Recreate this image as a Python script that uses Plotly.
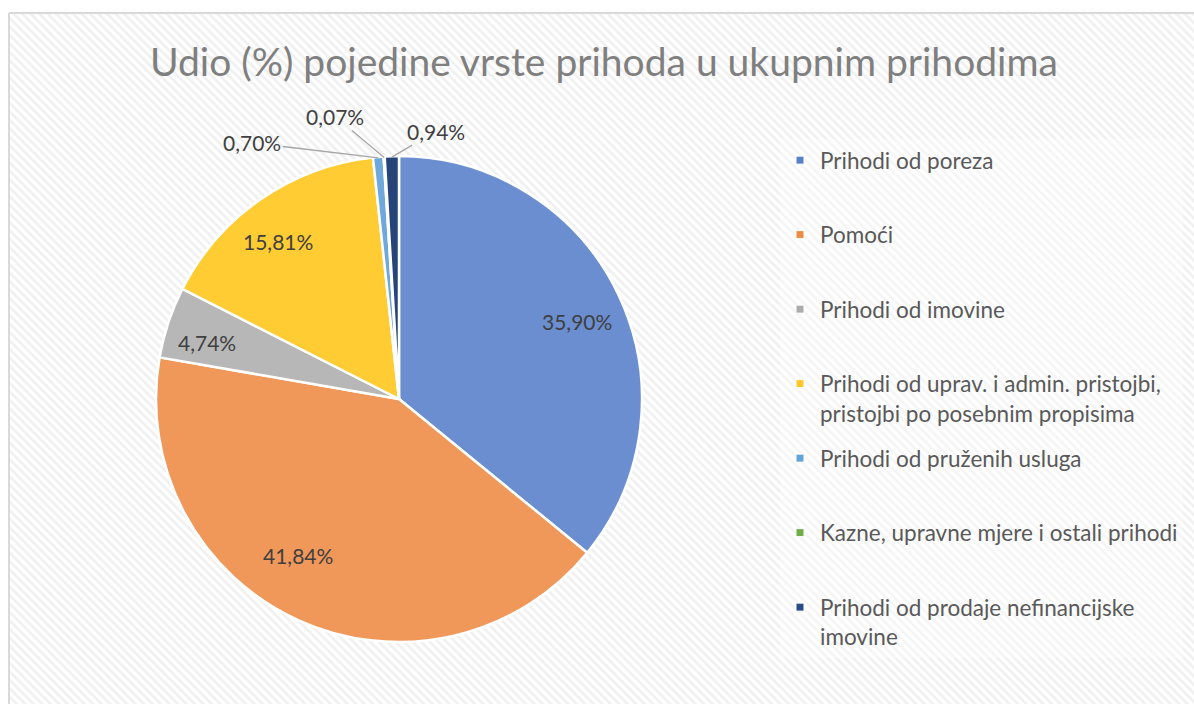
import math
import plotly.graph_objects as go

# ---- data ----
categories = [
    "Prihodi od poreza",
    "Pomoći",
    "Prihodi od imovine",
    "Prihodi od uprav. i admin. pristojbi, pristojbi po posebnim propisima",
    "Prihodi od pruženih usluga",
    "Kazne, upravne mjere i ostali prihodi",
    "Prihodi od prodaje nefinancijske imovine",
]
legend_labels = [
    "Prihodi od poreza",
    "Pomoći",
    "Prihodi od imovine",
    "Prihodi od uprav. i admin. pristojbi,<br>pristojbi po posebnim propisima",
    "Prihodi od pruženih usluga",
    "Kazne, upravne mjere i ostali prihodi",
    "Prihodi od prodaje nefinancijske<br>imovine",
]
shares = [35.90, 41.84, 4.74, 15.81, 0.70, 0.07, 0.94]
title_text = "Udio (%) pojedine vrste prihoda u ukupnim prihodima"

# ---- style ----
colors = ["#6A8ED0", "#F0975A", "#B7B7B7", "#FFCC33", "#6FA8DC", "#70AD47", "#264478"]
legend_colors = ["#5B80CB", "#EF8A47", "#ACACAC", "#FFC72A", "#65A2D8", "#70AD47", "#2B4C85"]
# inside labels: pixel nudge from the 0.8 R mid-angle point; outside labels: offset of text from slice edge
inside_nudge = [(2, 6), (-20, -20), (-8, 5), (-11, 2), None, None, None]
outside_offset = [None, None, None, None, (-126, -15), (-49, -41), (44, -26)]

W, H = 1194, 704
FONT = "Lato"
CX, CY, R = 399, 399, 243

label_text = [f"{v:.2f}".replace(".", ",") + "%" for v in shares]

fig = go.Figure()

# hatched chart background with light border
fig.add_trace(go.Scatter(
    x=[9, W + 20, W + 20, 9, 9], y=[13, 13, H + 20, H + 20, 13],
    mode="lines", fill="toself",
    fillpattern=dict(shape="\\", fgcolor="#E2E2E2", bgcolor="#FFFFFF", size=6, solidity=0.45),
    line=dict(color="#D9D9D9", width=2),
    hoverinfo="skip", showlegend=False,
))

# legend entries (each padded to two lines so spacing is even)
for i, (lab, col) in enumerate(zip(legend_labels, legend_colors)):
    n = lab.count("<br>") + 1
    padded = lab + "<br> " * (2 - n)
    fig.add_trace(go.Scatter(
        x=[None], y=[None], mode="markers", name=padded, legendgroup=f"g{i}",
        marker=dict(symbol="square", size=8, color=col, line=dict(color="white", width=1)),
        showlegend=True, hoverinfo="skip",
    ))

fig.add_trace(go.Pie(
    labels=categories, values=shares,
    sort=False, direction="clockwise", rotation=0,
    marker=dict(colors=colors, line=dict(color="white", width=2.5)),
    textinfo="none",
    domain=dict(x=[(CX - R) / W, (CX + R) / W], y=[(H - CY - R) / H, (H - CY + R) / H]),
    showlegend=False, hoverinfo="label+percent",
))

# data labels, positioned from the slice angles
annotations = []
total = sum(shares)
cum = 0.0
for v, txt, nudge, off in zip(shares, label_text, inside_nudge, outside_offset):
    mid = (cum + v / 2) / total * 2 * math.pi
    cum += v
    sx, sy = math.sin(mid), -math.cos(mid)
    if off is None:
        annotations.append(dict(
            x=CX + 0.8 * R * sx + nudge[0], y=CY + 0.8 * R * sy + nudge[1], xref="x", yref="y",
            text=txt, showarrow=False, xanchor="center", yanchor="middle",
            font=dict(family=FONT, size=21, color="#404040"),
        ))
    else:
        ex, ey = CX + (R - 1) * sx, CY + (R - 1) * sy
        annotations.append(dict(
            x=ex, y=ey, xref="x", yref="y",
            ax=ex + off[0], ay=ey + off[1], axref="x", ayref="y",
            text=txt, showarrow=True, arrowhead=0, arrowwidth=1.3,
            arrowcolor="#A6A6A6", standoff=0, startstandoff=0,
            font=dict(family=FONT, size=21, color="#404040"),
        ))

annotations.append(dict(
    text=title_text, x=604, y=61, xref="x", yref="y",
    xanchor="center", yanchor="middle", showarrow=False,
    font=dict(family=FONT, size=39, color="#7F7F7F"),
))

fig.update_layout(
    width=W, height=H,
    margin=dict(l=0, r=0, t=0, b=0, autoexpand=False),
    paper_bgcolor="white", plot_bgcolor="rgba(0,0,0,0)",
    xaxis=dict(range=[0, W], visible=False, domain=[0, 1], fixedrange=True),
    yaxis=dict(range=[H, 0], visible=False, domain=[0, 1], fixedrange=True),
    font=dict(family=FONT, color="#595959"),
    legend=dict(
        x=780 / W, y=1 - 139 / H, xanchor="left", yanchor="top",
        bgcolor="rgba(255,255,255,0.35)", borderwidth=0,
        font=dict(family=FONT, size=22.5, color="#595959"),
        valign="top", itemwidth=30, tracegroupgap=13,
    ),
    annotations=annotations,
)

fig.write_html(
    "out.html",
    config={"displayModeBar": False},
    post_script="document.body.style.margin='0';document.documentElement.style.overflow='hidden';",
)
